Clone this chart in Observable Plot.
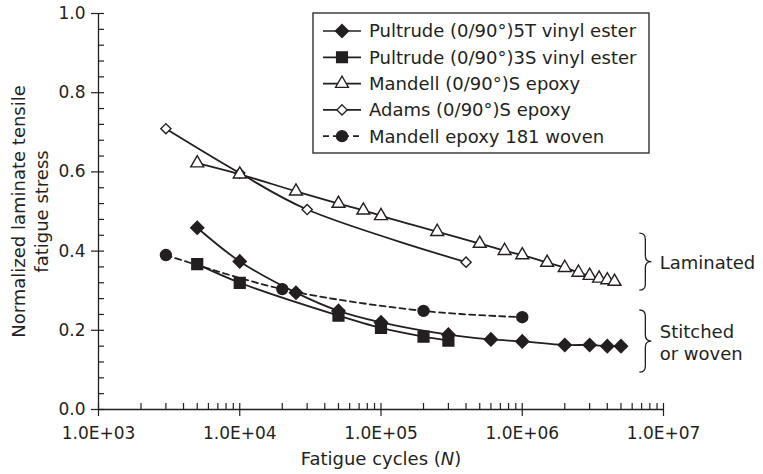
<!DOCTYPE html>
<html>
<head>
<meta charset="utf-8">
<script src="https://cdn.jsdelivr.net/npm/d3@7"></script>
<script src="https://cdn.jsdelivr.net/npm/@observablehq/plot@0.6"></script>
<style>
  html, body { margin: 0; padding: 0; background: #fff; }
  #chart svg { display: block; }
</style>
</head>
<body>
<div id="chart"></div>
<script>
// ---------- data ----------
const xTicks = [1e3, 1e4, 1e5, 1e6, 1e7];
const xTickLabels = ["1.0E+03", "1.0E+04", "1.0E+05", "1.0E+06", "1.0E+07"];
const yTicks = [0, 0.2, 0.4, 0.6, 0.8, 1.0];
const yTickLabels = ["0.0", "0.2", "0.4", "0.6", "0.8", "1.0"];

const seriesNames = [
  "Pultrude (0/90°)5T vinyl ester",
  "Pultrude (0/90°)3S vinyl ester",
  "Mandell (0/90°)S epoxy",
  "Adams (0/90°)S epoxy",
  "Mandell epoxy 181 woven"
];

const pultrude5T_N = [5e3, 1e4, 2.5e4, 5e4, 1e5, 3e5, 6e5, 1e6, 2e6, 3e6, 4e6, 5e6];
const pultrude5T_S = [0.459, 0.374, 0.295, 0.249, 0.220, 0.189, 0.177, 0.172, 0.163, 0.163, 0.160, 0.160];

const pultrude3S_N = [5e3, 1e4, 5e4, 1e5, 2e5, 3e5];
const pultrude3S_S = [0.367, 0.320, 0.237, 0.206, 0.184, 0.174];

const mandell_N = [5e3, 1e4, 2.5e4, 5e4, 7.5e4, 1e5, 2.5e5, 5e5, 7.5e5, 1e6, 1.5e6, 2e6, 2.5e6, 3e6, 3.5e6, 4e6, 4.5e6];
const mandell_S = [0.622, 0.594, 0.551, 0.520, 0.503, 0.489, 0.449, 0.419, 0.401, 0.390, 0.371, 0.358, 0.346, 0.338, 0.331, 0.327, 0.323];

const adams_N = [3e3, 1e4, 3e4, 4e5];
const adams_S = [0.709, 0.597, 0.505, 0.372];

const woven_N = [3e3, 2e4, 2e5, 1e6];
const woven_S = [0.390, 0.304, 0.249, 0.233];

const yAxisLabel = ["Normalized laminate tensile", "fatigue stress"];
const xAxisLabel = "Fatigue cycles (N)";

// annotation braces
const braceLabels = ["Laminated", "Stitched\nor woven"];
const braceTop = [0.444, 0.250];
const braceBottom = [0.300, 0.093];
const braceN = 6.8e6;
const braceLabelN = 9.4e6;

// ---------- build ----------
const INK = "#231f20";
const FONT = "DejaVu Sans";

const styles = [
  {symbol: "diamond2", fill: INK, r: 5.9, dash: null},
  {symbol: "square", fill: INK, r: 6.1, dash: null},
  {symbol: "triangle", fill: "white", r: 4.8, dash: null},
  {symbol: "diamond2", fill: "white", r: 4.6, dash: null},
  {symbol: "circle", fill: INK, r: 5.5, dash: "6,4"}
];

const seriesN = [pultrude5T_N, pultrude3S_N, mandell_N, adams_N, woven_N];
const seriesS = [pultrude5T_S, pultrude3S_S, mandell_S, adams_S, woven_S];
const seriesData = seriesN.map((ns, k) => ns.map((n, i) => ({series: seriesNames[k], N: n, S: seriesS[k][i]})));

// draw order: Adams under Mandell, etc.
const drawOrder = [4, 3, 2, 1, 0];

const xMinor = [];
for (const d of [1e3, 1e4, 1e5, 1e6]) for (let k = 1; k <= 9; k++) xMinor.push(k * d);
xMinor.push(1e7);
const yMinor = d3.range(0, 26).map(i => +(i * 0.04).toFixed(2));

const symbolTypes = {
  diamond2: d3.symbolDiamond2, square: d3.symbolSquare, triangle: d3.symbolTriangle, circle: d3.symbolCircle
};

function legendMark(index, scales, values, dimensions) {
  const g = d3.create("svg:g").attr("font-family", FONT).attr("font-size", 18).attr("text-anchor", "start");
  const box = {x: 313, y: 13, w: 336, h: 140, row0: 31, rowStep: 26.3, lx0: 323, lx1: 361, sx: 342, tx: 369};
  g.append("rect").attr("x", box.x).attr("y", box.y).attr("width", box.w).attr("height", box.h)
    .attr("fill", "white").attr("stroke", INK).attr("stroke-width", 1.3);
  seriesNames.forEach((name, i) => {
    const st = styles[i];
    const y = box.row0 + i * box.rowStep;
    g.append("line").attr("x1", box.lx0).attr("x2", box.lx1).attr("y1", y).attr("y2", y)
      .attr("stroke", INK).attr("stroke-width", 1.7).attr("stroke-dasharray", st.dash);
    g.append("path").attr("transform", `translate(${box.sx},${y})`)
      .attr("d", d3.symbol(symbolTypes[st.symbol], st.r * st.r * Math.PI)())
      .attr("fill", st.fill).attr("stroke", INK).attr("stroke-width", 1.3);
    g.append("text").attr("x", box.tx).attr("y", y).attr("dy", "0.35em").attr("text-anchor", "start")
      .attr("fill", INK).text(name);
  });
  return g.node();
}

function braceMark(index, scales) {
  const g = d3.create("svg:g");
  const w = 12, rr = 6;
  for (let i = 0; i < braceTop.length; i++) {
    const x0 = scales.x(braceN), x1 = x0 + w, xm = x0 + w / 2;
    const y1 = scales.y(braceTop[i]), y2 = scales.y(braceBottom[i]), ym = (y1 + y2) / 2;
    const p = `M${x0},${y1} Q${xm},${y1} ${xm},${y1 + rr} L${xm},${ym - rr} Q${xm},${ym} ${x1},${ym} ` +
              `Q${xm},${ym} ${xm},${ym + rr} L${xm},${y2 - rr} Q${xm},${y2} ${x0},${y2}`;
    g.append("path").attr("d", p).attr("fill", "none").attr("stroke", INK).attr("stroke-width", 1.3);
  }
  return g.node();
}

const marks = [];
// axis lines
marks.push(Plot.ruleX([1e3], {stroke: INK, strokeWidth: 1.3}));
marks.push(Plot.ruleY([0], {stroke: INK, strokeWidth: 1.3}));
// inner minor ticks
marks.push(Plot.ruleX(xMinor, {x: d => d, y1: 0, y2: 0, insetBottom: 6, stroke: INK, strokeWidth: 1.2}));
marks.push(Plot.ruleY(yMinor, {y: d => d, x1: 1e3, x2: 1e3, insetRight: -6, stroke: INK, strokeWidth: 1.2}));
// major axes
marks.push(Plot.axisX({ticks: xTicks, tickFormat: d => xTickLabels[xTicks.indexOf(d)], tickSize: 7, tickPadding: 10,
  label: null, fontSize: 17, stroke: INK, strokeWidth: 1.2, fill: INK}));
marks.push(Plot.axisY({ticks: yTicks, tickFormat: d => yTickLabels[yTicks.findIndex(t => Math.abs(t - d) < 1e-9)], tickSize: 7, tickPadding: 6,
  label: null, fontSize: 17, stroke: INK, strokeWidth: 1.2, fill: INK}));
// axis titles
marks.push(Plot.text([yAxisLabel.join("\n")], {text: d => d, frameAnchor: "left", textAnchor: "middle", lineAnchor: "middle",
  rotate: -90, dx: -69, lineHeight: 1.28, fontSize: 18, fill: INK}));
marks.push(Plot.text([xAxisLabel], {text: d => d, frameAnchor: "bottom", dy: 55, fontSize: 18, fill: INK}));

// series lines
for (const k of drawOrder) {
  const st = styles[k];
  marks.push(Plot.line(seriesData[k], {x: "N", y: "S", stroke: INK, strokeWidth: 1.8, curve: "catmull-rom",
    strokeDasharray: st.dash || undefined}));
}
// series markers
for (const k of drawOrder) {
  const st = styles[k];
  marks.push(Plot.dot(seriesData[k], {x: "N", y: "S", symbol: () => st.symbol, r: st.r, fill: st.fill,
    stroke: INK, strokeWidth: 1.4}));
}
// braces + labels
marks.push(braceMark);
marks.push(Plot.text(braceLabels, {x: () => braceLabelN, y: (d, i) => (braceTop[i] + braceBottom[i]) / 2,
  text: d => d, textAnchor: "start", lineHeight: 1.25, fontSize: 18, fill: INK}));
marks.push(legendMark);

const chart = Plot.plot({
  width: 763, height: 474,
  marginLeft: 98, marginRight: 100, marginTop: 13, marginBottom: 65,
  x: {type: "log", domain: [1e3, 1e7]},
  y: {domain: [0, 1]},
  symbol: {type: "identity"},
  style: {fontFamily: FONT, fontSize: "17px", color: INK, background: "white", overflow: "visible"},
  marks
});

// italic N in x-axis title
d3.select(chart).selectAll("text").filter(function () { return this.textContent === xAxisLabel; })
  .each(function () {
    const t = d3.select(this);
    t.text(null);
    t.append("tspan").text("Fatigue cycles (");
    t.append("tspan").attr("font-style", "italic").text("N");
    t.append("tspan").text(")");
  });

document.getElementById("chart").appendChild(chart);
</script>
</body>
</html>
